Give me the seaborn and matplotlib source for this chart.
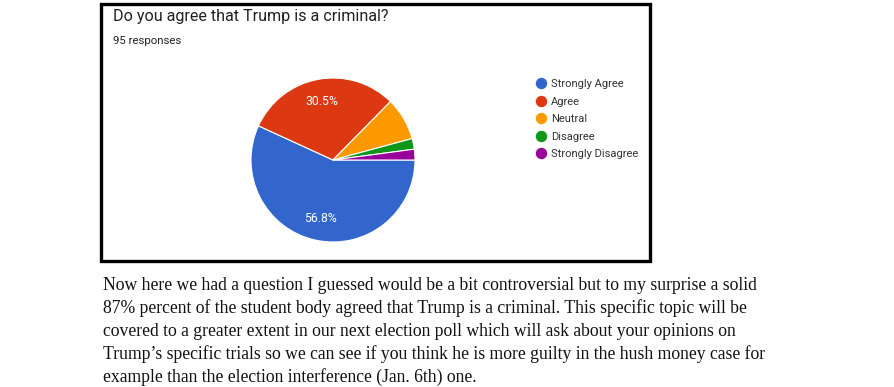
import matplotlib.pyplot as plt
import seaborn as sns
from matplotlib.lines import Line2D
from matplotlib.patches import Rectangle

answers = ['Strongly Agree', 'Agree', 'Neutral', 'Disagree', 'Strongly Disagree']
counts = [54, 29, 8, 2, 2]
colors = ['#3366CC', '#DC3912', '#FF9900', '#109618', '#990099']

title = 'Do you agree that Trump is a criminal?'
subtitle = '95 responses'
paragraph = ['Now here we had a question I guessed would be a bit controversial but to my surprise a solid',
             '87% percent of the student body agreed that Trump is a criminal. This specific topic will be',
             'covered to a greater extent in our next election poll which will ask about your opinions on',
             'Trump\u2019s specific trials so we can see if you think he is more guilty in the hush money case for',
             'example than the election interference (Jan. 6th) one.']

sns.set_style('white')
plt.rcParams['font.family'] = ['Roboto', 'DejaVu Sans']

W, H = 894, 387
fig = plt.figure(figsize=(W / 100, H / 100), dpi=100)

# black frame around the form screenshot
fig.patches.append(Rectangle((101 / W, 1 - 260.5 / H), 549 / W, 257 / H,
                             transform=fig.transFigure, fill=False,
                             edgecolor='black', linewidth=2.4))

fig.text(113 / W, 1 - 17 / H, title, fontsize=11.6, color='#202124', va='center')
fig.text(113 / W, 1 - 41 / H, subtitle, fontsize=8.2, color='#202124', va='center')

# pie centred at (333,160) px with radius 82 px
ax = fig.add_axes([251 / W, 1 - 242 / H, 164 / W, 164 / H])
pal = sns.color_palette(colors)


def fmt(p):
    return f'{p:.1f}%' if p > 10 else ''


wedges, _, autotexts = ax.pie(counts, colors=pal, startangle=0, counterclock=False,
                              autopct=fmt, pctdistance=0.73, radius=1,
                              wedgeprops=dict(edgecolor='white', linewidth=0.8),
                              textprops=dict(color='white', fontsize=8.8))
ax.set_xlim(-1, 1)
ax.set_ylim(-1, 1)
ax.set_aspect('equal')
ax.axis('off')

handles = [Line2D([], [], marker='o', linestyle='', markersize=7.2,
                  markerfacecolor=c, markeredgecolor=c) for c in pal]
fig.legend(handles, answers, loc='upper left', bbox_to_anchor=(537 / W, 1 - 79 / H),
           frameon=False, fontsize=8, handlelength=0.8, handletextpad=0.45,
           labelspacing=0.68, borderpad=0, borderaxespad=0, labelcolor='#333333')

for i, line in enumerate(paragraph):
    fig.text(103 / W, 1 - (290 + 23 * i) / H, line, fontsize=12.7,
             family=['Liberation Serif'], color='#111111', va='baseline')

fig.savefig('out.png', dpi=100)
